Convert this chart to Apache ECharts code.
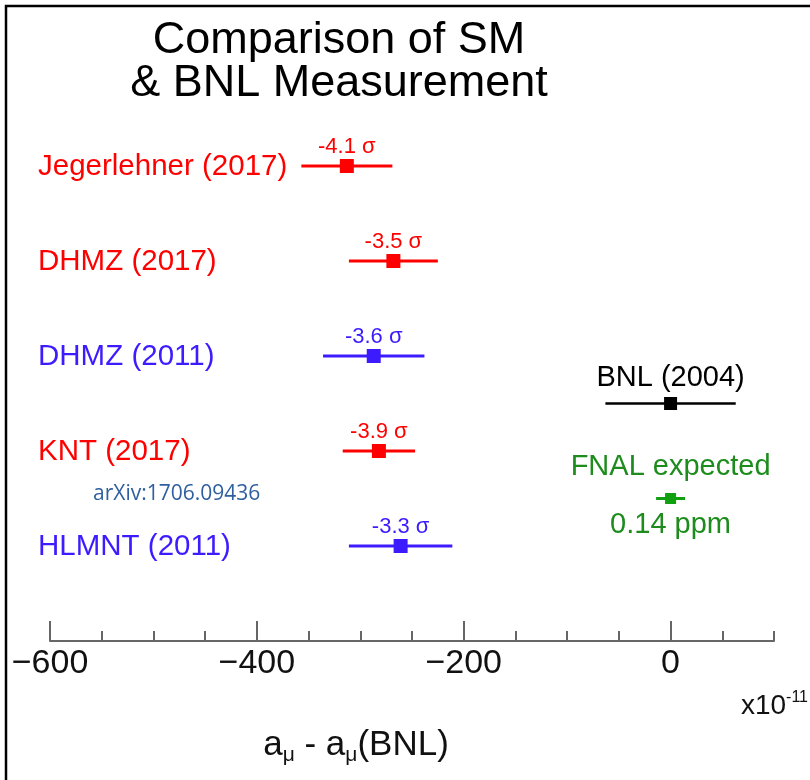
<!DOCTYPE html>
<html><head><meta charset="utf-8">
<script src="https://cdn.jsdelivr.net/npm/echarts@6/dist/echarts.min.js"></script>
<style>html,body{margin:0;padding:0;background:#fff}#c{width:810px;height:780px}</style>
</head><body><div id="c"></div>
<script>
// ---- data ----
const titleLines = ['Comparison of SM', '& BNL Measurement'];
const rowLabels = ['Jegerlehner (2017)', 'DHMZ (2017)', 'DHMZ (2011)', 'KNT (2017)', 'HLMNT (2011)'];
const rowPos = [10, 8, 6, 4, 2];
const rowCenters = [-313, -268, -287, -282, -261];
const rowErrors = [44, 43, 49, 35, 50];
const rowSigmas = ['-4.1 σ', '-3.5 σ', '-3.6 σ', '-3.9 σ', '-3.3 σ'];
const measLabels = ['BNL (2004)', 'FNAL expected'];
const measSubLabels = ['', '0.14 ppm'];
const measPos = [5, 3];
const measCenters = [0, 0];
const measErrors = [63, 14];
const xTicks = [-600, -400, -200, 0];
const xMin = -600, xMax = 100, xMinorStep = 50;
const refNote = 'arXiv:1706.09436';

// ---- styles ----
const RED = '#ff0000', BLUE = '#3c1cff', BLACK = '#000000', GREEN_T = '#1d8c1d', GREEN = '#10a010';
const rowColors = [RED, RED, BLUE, RED, BLUE];
const measTextColors = [BLACK, GREEN_T];
const measColors = [BLACK, GREEN];
const FONT = '"Liberation Sans", Arial, Helvetica, sans-serif';

const rowData = rowLabels.map((l, i) => [rowCenters[i], rowCenters[i] - rowErrors[i], rowCenters[i] + rowErrors[i], rowPos[i]]);
const measData = measLabels.map((l, i) => [measCenters[i], measCenters[i] - measErrors[i], measCenters[i] + measErrors[i], measPos[i]]);

function renderRow(params, api) {
  const i = params.dataIndex;
  const y = api.value(3);
  const c = api.coord([api.value(0), y]);
  const lo = api.coord([api.value(1), y]);
  const hi = api.coord([api.value(2), y]);
  const left = api.coord([xMin, y]);
  const col = rowColors[i];
  const s = 14;
  return {
    type: 'group',
    children: [
      { type: 'line', shape: { x1: lo[0], y1: c[1], x2: hi[0], y2: c[1] }, style: { stroke: col, lineWidth: 3 } },
      { type: 'rect', shape: { x: c[0] - s / 2, y: c[1] - s / 2, width: s, height: s }, style: { fill: col } },
      { type: 'text', x: c[0], y: c[1] - 19, style: { text: rowSigmas[i], fill: col, font: '22px ' + FONT, align: 'center', verticalAlign: 'middle' } },
      { type: 'text', x: left[0] - 12, y: c[1] + 1, style: { text: rowLabels[i], fill: col, font: '29.5px ' + FONT, align: 'left', verticalAlign: 'middle' } }
    ]
  };
}

function renderMeas(params, api) {
  const i = params.dataIndex;
  const y = api.value(3);
  const c = api.coord([api.value(0), y]);
  const lo = api.coord([api.value(1), y]);
  const hi = api.coord([api.value(2), y]);
  const col = measColors[i];
  const tcol = measTextColors[i];
  const s = i === 0 ? 13 : 11;
  const children = [
    { type: 'line', shape: { x1: lo[0], y1: c[1], x2: hi[0], y2: c[1] }, style: { stroke: col, lineWidth: i === 0 ? 2.5 : 3 } },
    { type: 'rect', shape: { x: c[0] - s / 2, y: c[1] - s / 2, width: s, height: s }, style: { fill: col } },
    { type: 'text', x: c[0], y: c[1] - (i === 0 ? 26 : 32), style: { text: measLabels[i], fill: tcol, font: '29px ' + FONT, align: 'center', verticalAlign: 'middle' } }
  ];
  if (measSubLabels[i]) {
    children.push({ type: 'text', x: c[0], y: c[1] + 26, style: { text: measSubLabels[i], fill: tcol, font: '29px ' + FONT, align: 'center', verticalAlign: 'middle' } });
  }
  return { type: 'group', children };
}

const chart = echarts.init(document.getElementById('c'), null, { renderer: 'canvas' });
chart.setOption({
  backgroundColor: '#ffffff',
  animation: false,
  grid: { left: 50, right: 36, top: 71, bottom: 139, containLabel: false },
  xAxis: [{
    type: 'value', min: xMin, max: xMax, interval: 200, position: 'bottom',
    axisLine: { show: true, lineStyle: { color: '#666', width: 2 } },
    axisTick: { show: true, inside: true, length: 20, customValues: xTicks, lineStyle: { color: '#666', width: 2 } },
    axisLabel: { customValues: xTicks, fontSize: 34, color: '#111', margin: 6, fontFamily: FONT,
      formatter: v => (v < 0 ? '\u2212' + Math.abs(v) : String(v)) },
    splitLine: { show: false }
  }, {
    type: 'value', min: xMin, max: xMax, interval: xMinorStep, position: 'bottom',
    axisLine: { show: false },
    axisTick: { show: true, inside: true, length: 10, lineStyle: { color: '#666', width: 2 } },
    axisLabel: { show: false },
    splitLine: { show: false }
  }],
  yAxis: { type: 'value', min: 0, max: 12, show: false },
  series: [
    { type: 'custom', renderItem: renderRow, data: rowData, xAxisIndex: 0, clip: false },
    { type: 'custom', renderItem: renderMeas, data: measData, xAxisIndex: 0, clip: false }
  ],
  graphic: [
    { type: 'polyline', shape: { points: [[6, 780], [6, 6], [810, 6]] }, style: { stroke: '#000', lineWidth: 2.5, fill: null } },
    { type: 'text', x: 339, y: 62, style: { text: titleLines.join('\n'), fill: '#000', font: '45px ' + FONT, align: 'center', verticalAlign: 'middle', lineHeight: 43 } },
    { type: 'text', x: 93, y: 494, style: { text: refNote, fill: '#2f5f9f', font: '21px "Open Sans", sans-serif', align: 'left', verticalAlign: 'middle' } },
    { type: 'text', x: 808, y: 706, style: {
      text: '{m|x10}{p|-11}', align: 'right', verticalAlign: 'middle',
      rich: { m: { fontSize: 28, fontFamily: FONT, fill: '#111' }, p: { fontSize: 16, fontFamily: FONT, fill: '#111', padding: [0, 0, 16, 0] } } } },
    { type: 'text', x: 356, y: 745, style: {
      text: '{a|a}{s|μ}{a| - a}{s|μ}{a|(BNL)}', align: 'center', verticalAlign: 'middle',
      rich: { a: { fontSize: 35, fontFamily: FONT, fill: '#111' }, s: { fontSize: 21, fontFamily: FONT, fill: '#111', padding: [20, 0, 0, 0] } } } }
  ]
});
</script>
</body></html>
